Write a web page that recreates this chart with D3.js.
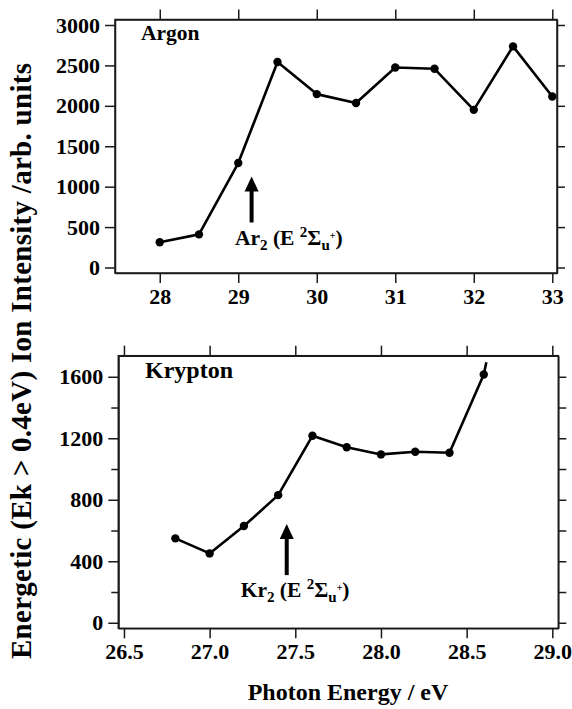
<!DOCTYPE html>
<html>
<head>
<meta charset="utf-8">
<script src="https://cdn.jsdelivr.net/npm/d3@7"></script>
<style>
  body { margin: 0; background: #fff; }
</style>
</head>
<body>
<div id="svgDiv"></div>
<script>
//data
var arEnergy = [28, 28.5, 29, 29.5, 30, 30.5, 31, 31.5, 32, 32.5, 33];
var arIntensity = [312, 410, 1292, 2542, 2145, 2035, 2475, 2458, 1950, 2735, 2115];

var krEnergy = [26.8, 27.0, 27.2, 27.4, 27.6, 27.8, 28.0, 28.2, 28.4, 28.6];
var krIntensity = [549, 451, 629, 830, 1216, 1142, 1095, 1112, 1106, 1615];
//line keeps going a little past the last point
var krTail = [28.615, 1695];

var arXTicks = [28, 29, 30, 31, 32, 33];
var arYTicks = [0, 500, 1000, 1500, 2000, 2500, 3000];
var krXTicks = [26.5, 27.0, 27.5, 28.0, 28.5, 29.0];
var krYTicks = [0, 400, 800, 1200, 1600];
var krYMinor = [200, 600, 1000, 1400];

//arrow annotations: [x, yBottom, yTip]
var arArrow = [29.17, 557, 1126];
var krArrow = [27.45, 310, 642];

var svgWidth = 572, svgHeight = 709;
var FONT = "Liberation Serif";
var INK = "#1a1a1a";

var svg = d3.select("#svgDiv")
    .append("svg")
    .attr("width", svgWidth)
    .attr("height", svgHeight);

//panel scales
var arX = d3.scaleLinear().domain([27.43, 33.06]).range([115, 557]);
var arY = d3.scaleLinear().domain([-68, 3068]).range([273, 19.5]);
var krX = d3.scaleLinear().domain([26.467, 29.035]).range([118.3, 558.3]);
var krY = d3.scaleLinear().domain([-36, 1737]).range([628.3, 355.7]);

//puts the bold serif on a text selection
function serif(sel, size){
    return sel.attr("font-family", FONT)
        .attr("font-weight", "bold")
        .attr("font-size", size)
        .attr("fill", "#000");
}

function styleAxis(g){
    g.attr("font-family", FONT).attr("font-size", 22);
    g.selectAll("line, path").attr("stroke", INK).attr("stroke-width", 1.5);
    serif(g.selectAll("text"), 22);
}

function drawPanel(x, y, xTicks, yTicks, xFmt, yMinor){
    var x0 = x.range()[0], x1 = x.range()[1];
    var y0 = y.range()[0], y1 = y.range()[1];

    svg.append("g")
        .attr("transform", "translate(0," + y0 + ")")
        .call(d3.axisBottom(x).tickValues(xTicks).tickFormat(xFmt).tickSize(10).tickSizeOuter(0).tickPadding(5))
        .call(styleAxis);

    svg.append("g")
        .attr("transform", "translate(0," + y1 + ")")
        .call(d3.axisTop(x).tickValues(xTicks).tickFormat("").tickSize(10).tickSizeOuter(0))
        .call(styleAxis);

    svg.append("g")
        .attr("transform", "translate(" + x0 + ",0)")
        .call(d3.axisLeft(y).tickValues(yTicks).tickFormat(d3.format("d")).tickSize(10).tickSizeOuter(0).tickPadding(5))
        .call(styleAxis);

    svg.append("g")
        .attr("transform", "translate(" + x1 + ",0)")
        .call(d3.axisRight(y).tickValues(yTicks.concat(yMinor || [])).tickFormat("").tickSize(8).tickSizeOuter(0))
        .call(styleAxis);

    if(yMinor){
        svg.append("g")
            .attr("transform", "translate(" + x0 + ",0)")
            .call(d3.axisLeft(y).tickValues(yMinor).tickFormat("").tickSize(7).tickSizeOuter(0))
            .call(styleAxis);
    }

    //frame
    svg.append("rect")
        .attr("x", x0).attr("y", y1)
        .attr("width", x1 - x0).attr("height", y0 - y1)
        .attr("fill", "none").attr("stroke", INK).attr("stroke-width", 1.5);
}

drawPanel(arX, arY, arXTicks, arYTicks, d3.format("d"), null);
drawPanel(krX, krY, krXTicks, krYTicks, d3.format(".1f"), krYMinor);

function drawSeries(x, y, xs, ys, tail){
    var pts = xs.map(function(d, i){ return [d, ys[i]]; });
    var linePts = tail ? pts.concat([tail]) : pts;
    var line = d3.line()
        .x(function(d){ return x(d[0]); })
        .y(function(d){ return y(d[1]); });
    svg.append("path")
        .datum(linePts)
        .attr("d", line)
        .attr("fill", "none")
        .attr("stroke", "#000")
        .attr("stroke-width", 2.6)
        .attr("stroke-linejoin", "round");
    svg.append("g").selectAll("circle")
        .data(pts)
        .enter().append("circle")
        .attr("cx", function(d){ return x(d[0]); })
        .attr("cy", function(d){ return y(d[1]); })
        .attr("r", 4.2)
        .attr("fill", "#000");
}

drawSeries(arX, arY, arEnergy, arIntensity, null);
drawSeries(krX, krY, krEnergy, krIntensity, krTail);

function drawArrow(x, y, a){
    var ax = x(a[0]), yb = y(a[1]), yt = y(a[2]);
    svg.append("line")
        .attr("x1", ax).attr("x2", ax)
        .attr("y1", yb).attr("y2", yt + 12)
        .attr("stroke", "#000").attr("stroke-width", 4);
    svg.append("path")
        .attr("d", "M" + ax + "," + yt + "L" + (ax - 7) + "," + (yt + 15) + "L" + (ax + 7) + "," + (yt + 15) + "Z")
        .attr("fill", "#000");
}

drawArrow(arX, arY, arArrow);
drawArrow(krX, krY, krArrow);

//state label with sub/superscripts
function stateLabel(xp, yp, atom){
    var t = serif(svg.append("text").attr("x", xp).attr("y", yp), 21.5);
    t.append("tspan").text(atom);
    t.append("tspan").attr("dy", 5).attr("font-size", 15).text("2");
    t.append("tspan").attr("dy", -5).text(" (E ");
    t.append("tspan").attr("dy", -8).attr("font-size", 15).text("2");
    t.append("tspan").attr("dy", 8).text("\u03A3");
    t.append("tspan").attr("dy", 5).attr("font-size", 15).text("u");
    t.append("tspan").attr("dy", -11).attr("font-size", 10).text("+");
    t.append("tspan").attr("dy", 6).text(")");
}

stateLabel(235, 245, "Ar");
stateLabel(240.7, 596.7, "Kr");

serif(svg.append("text").attr("x", 141).attr("y", 40), 21.5).text("Argon");
serif(svg.append("text").attr("x", 145).attr("y", 378), 24).text("Krypton");

//axis titles
serif(svg.append("text")
    .attr("x", 348).attr("y", 700)
    .attr("text-anchor", "middle"), 24)
    .text("Photon Energy / eV");

serif(svg.append("text")
    .attr("transform", "translate(31,361) rotate(-90)")
    .attr("text-anchor", "middle")
    .attr("textLength", 596)
    .attr("lengthAdjust", "spacing"), 29)
    .text("Energetic (Ek > 0.4eV) Ion Intensity /arb. units");
</script>
</body>
</html>
